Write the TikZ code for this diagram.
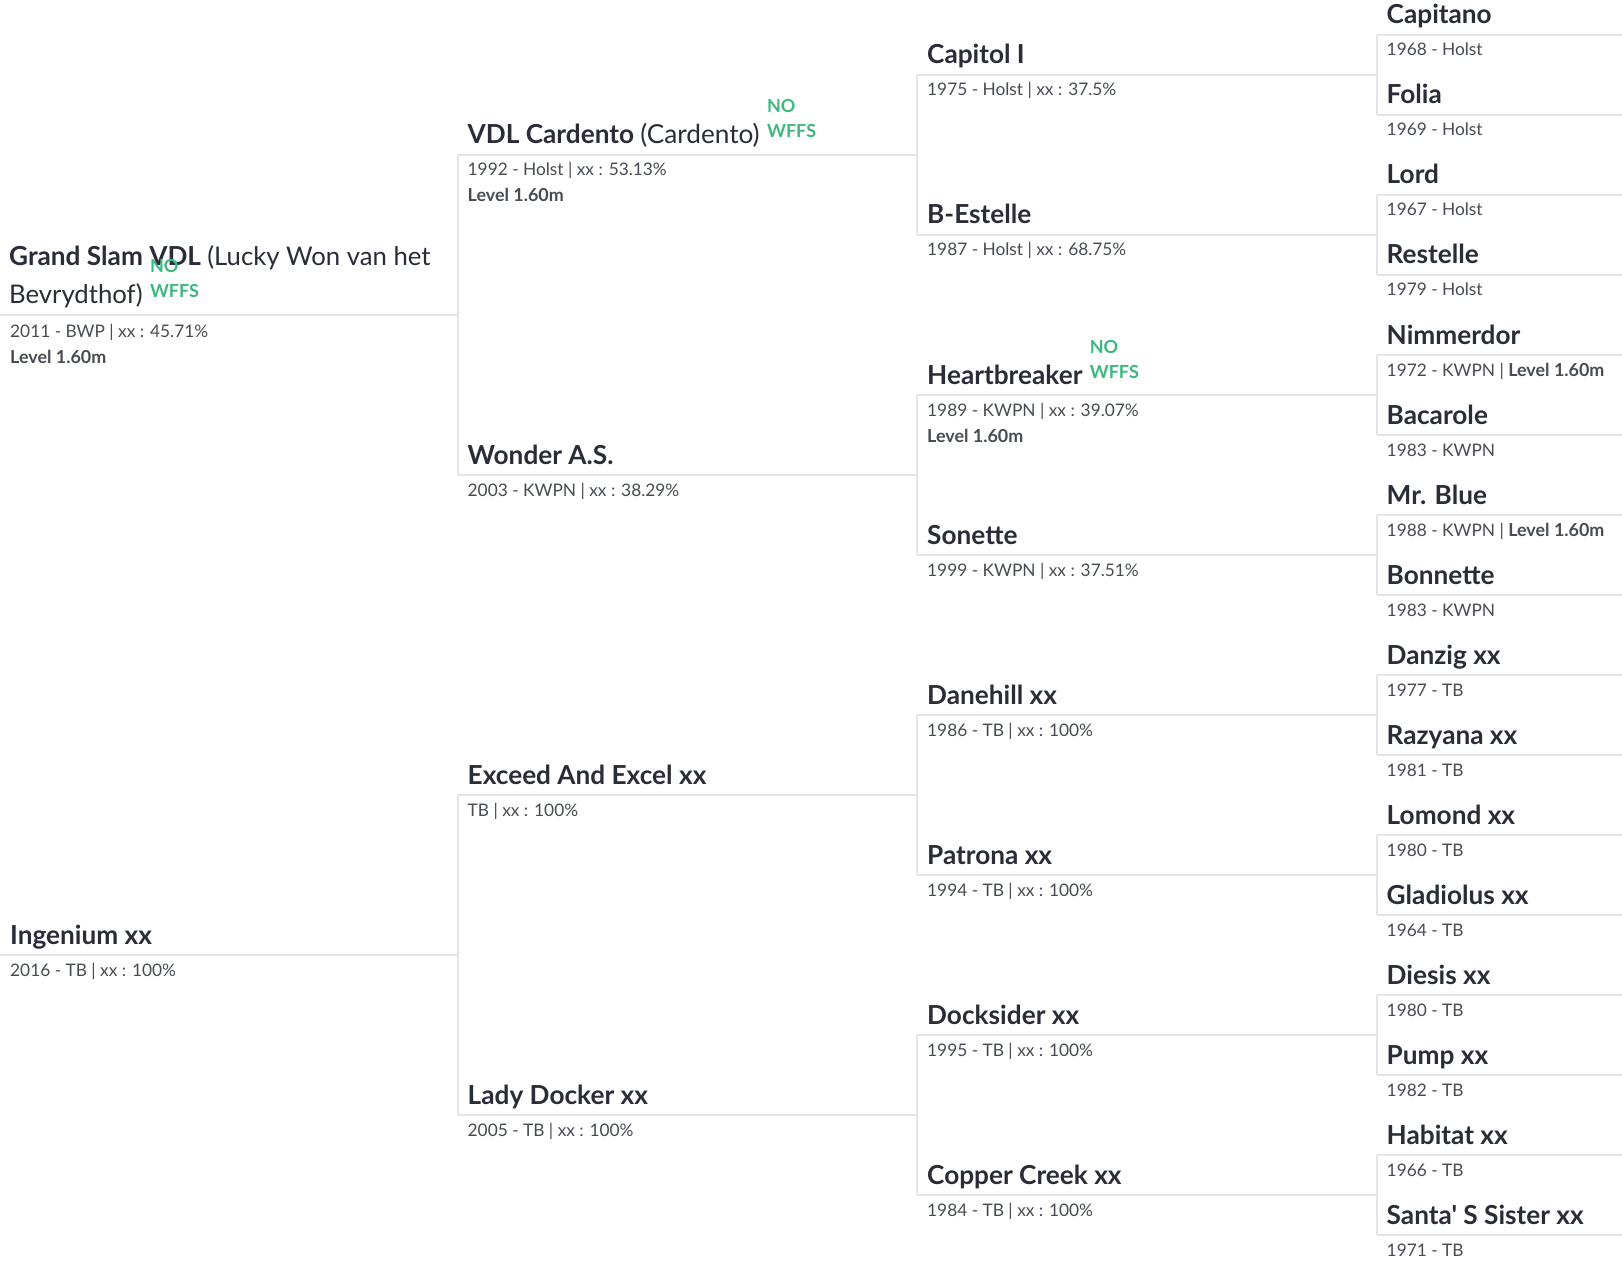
\documentclass[tikz,border=0pt]{standalone}
\usepackage{fontspec}
\setmainfont{Lato}[Ligatures=TeXOff]
\usetikzlibrary{calc}
\definecolor{namecol}{HTML}{282D38}
\definecolor{infocol}{HTML}{474C54}
\definecolor{wffscol}{HTML}{3DB97F}
\definecolor{linecol}{HTML}{E3E5E8}
\tikzset{
  namestyle/.style={anchor=base west, inner sep=0pt, text=namecol, font=\fontsize{26.2}{30}\selectfont\bfseries},
  infostyle/.style={anchor=base west, inner sep=0pt, text=infocol, font=\fontsize{17.3}{20}\selectfont},
  levelstyle/.style={anchor=base west, inner sep=0pt, text=infocol, font=\fontsize{17.9}{20}\selectfont\bfseries},
  badgestyle/.style={anchor=base west, inner sep=0pt, text=wffscol, font=\fontsize{18}{20}\selectfont\bfseries},
  pedline/.style={draw=linecol, line width=2pt},
}
% id, line x, line y, line end x, name, info
\newcommand\pedhorse[6]{%
  \coordinate (#1-l) at (#2,#3);
  \coordinate (#1-r) at (#4,#3);
  \draw[pedline] (#1-l) -- (#1-r);
  \node[namestyle] (#1-n) at (#2+10,#3-11) {#5};
  \node[infostyle] (#1-i) at (#2+10,#3+21) {#6};
}
\newcommand\pedlevel[1]{%
  \node[levelstyle] (#1-lv) at ($(#1-i.base west)+(0,26)$) {Level 1.60m};
}
\newcommand\pedbadge[1]{%
  \node[badgestyle] (#1-w) at ($(#1-n.base east)+(7,-6)$) {WFFS};
  \node[badgestyle] (#1-no) at ($(#1-w.base west)+(0,-25)$) {NO};
}
\newcommand\lvl{{\fontsize{17.9}{20}\selectfont\bfseries Level 1.60m}}
\begin{document}
\begin{tikzpicture}[x=1pt,y=-1pt]
\useasboundingbox (0,0) rectangle (1622,1265);
\fill[white] (0,0) rectangle (1622,1265);
% generation 0
\coordinate (gs-l) at (0,315);
\coordinate (gs-r) at (457.5,315);
\draw[pedline] (gs-l) -- (gs-r);
\node[namestyle] (gs-n1) at (9,266) {Grand Slam VDL {\fontsize{25.7}{30}\selectfont\mdseries (Lucky Won van het}};
\node[namestyle] (gs-n) at (9,304) {\fontsize{25.7}{30}\selectfont\mdseries Bevrydthof)};
\node[infostyle] (gs-i) at (10,337) {2011 - BWP | xx : 45.71\%};
\pedlevel{gs}
\pedbadge{gs}
\pedhorse{ing}{0}{955}{457.5}{Ingenium xx}{2016 - TB | xx : 100\%}
% generation 1
\pedhorse{car}{457.5}{155}{917}{VDL Cardento {\mdseries (Cardento)}}{1992 - Holst | xx : 53.13\%}
\pedlevel{car}
\pedbadge{car}
\pedhorse{won}{457.5}{475}{917}{Wonder A.S.}{2003 - KWPN | xx : 38.29\%}
\pedhorse{exc}{457.5}{795}{917}{Exceed And Excel xx}{TB | xx : 100\%}
\pedhorse{lad}{457.5}{1115}{917}{Lady Docker xx}{2005 - TB | xx : 100\%}
% generation 2
\pedhorse{cap}{917}{75}{1376.5}{Capitol I}{1975 - Holst | xx : 37.5\%}
\pedhorse{bes}{917}{235}{1376.5}{B-Estelle}{1987 - Holst | xx : 68.75\%}
\pedhorse{hea}{917}{395}{1376.5}{Heartbreaker}{1989 - KWPN | xx : 39.07\%}
\pedlevel{hea}
\pedbadge{hea}
\pedhorse{son}{917}{555}{1376.5}{Sonette}{1999 - KWPN | xx : 37.51\%}
\pedhorse{dan}{917}{715}{1376.5}{Danehill xx}{1986 - TB | xx : 100\%}
\pedhorse{pat}{917}{875}{1376.5}{Patrona xx}{1994 - TB | xx : 100\%}
\pedhorse{doc}{917}{1035}{1376.5}{Docksider xx}{1995 - TB | xx : 100\%}
\pedhorse{cop}{917}{1195}{1376.5}{Copper Creek xx}{1984 - TB | xx : 100\%}
% generation 3
\pedhorse{g1}{1376.5}{35}{1622}{Capitano}{1968 - Holst}
\pedhorse{g2}{1376.5}{115}{1622}{Folia}{1969 - Holst}
\pedhorse{g3}{1376.5}{195}{1622}{Lord}{1967 - Holst}
\pedhorse{g4}{1376.5}{275}{1622}{Restelle}{1979 - Holst}
\pedhorse{g5}{1376.5}{355}{1622}{Nimmerdor}{1972 - KWPN | \lvl}
\pedhorse{g6}{1376.5}{435}{1622}{Bacarole}{1983 - KWPN}
\pedhorse{g7}{1376.5}{515}{1622}{Mr. Blue}{1988 - KWPN | \lvl}
\pedhorse{g8}{1376.5}{595}{1622}{Bonnette}{1983 - KWPN}
\pedhorse{g9}{1376.5}{675}{1622}{Danzig xx}{1977 - TB}
\pedhorse{g10}{1376.5}{755}{1622}{Razyana xx}{1981 - TB}
\pedhorse{g11}{1376.5}{835}{1622}{Lomond xx}{1980 - TB}
\pedhorse{g12}{1376.5}{915}{1622}{Gladiolus xx}{1964 - TB}
\pedhorse{g13}{1376.5}{995}{1622}{Diesis xx}{1980 - TB}
\pedhorse{g14}{1376.5}{1075}{1622}{Pump xx}{1982 - TB}
\pedhorse{g15}{1376.5}{1155}{1622}{Habitat xx}{1966 - TB}
\pedhorse{g16}{1376.5}{1235}{1622}{Santa' S Sister xx}{1971 - TB}
% sire-dam brackets
\draw[pedline] (car-l) -- (won-l);
\draw[pedline] (exc-l) -- (lad-l);
\draw[pedline] (cap-l) -- (bes-l);
\draw[pedline] (hea-l) -- (son-l);
\draw[pedline] (dan-l) -- (pat-l);
\draw[pedline] (doc-l) -- (cop-l);
\draw[pedline] (g1-l) -- (g2-l);
\draw[pedline] (g3-l) -- (g4-l);
\draw[pedline] (g5-l) -- (g6-l);
\draw[pedline] (g7-l) -- (g8-l);
\draw[pedline] (g9-l) -- (g10-l);
\draw[pedline] (g11-l) -- (g12-l);
\draw[pedline] (g13-l) -- (g14-l);
\draw[pedline] (g15-l) -- (g16-l);
\end{tikzpicture}
\end{document}
